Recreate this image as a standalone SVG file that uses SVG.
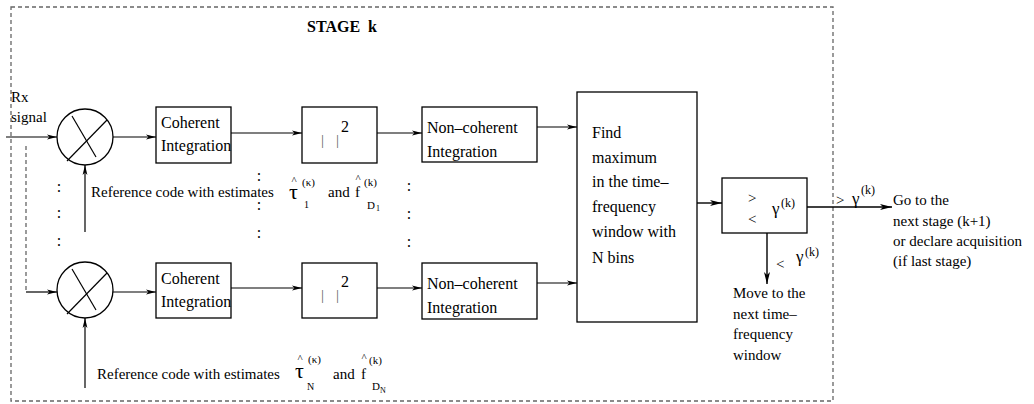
<svg xmlns="http://www.w3.org/2000/svg" width="1034" height="404" viewBox="0 0 1034 404">
<defs>
<marker id="ah" markerUnits="userSpaceOnUse" markerWidth="10" markerHeight="6" refX="10" refY="3" orient="auto"><path d="M0,0.6 L10,3 L0,5.4 L2.5,3 z" fill="#000"/></marker>
<marker id="ahb" markerUnits="userSpaceOnUse" markerWidth="12" markerHeight="8" refX="12" refY="4" orient="auto"><path d="M0,1 L12,4 L0,7 L3,4 z" fill="#000"/></marker>
</defs>
<style>
.t{font-family:"Liberation Serif","Times New Roman",serif;font-size:16px;fill:#000}
.s{font-size:15px}
.sup{font-size:11px}
.sm{font-size:10px}
.xs{font-size:8px}
.hat{font-size:11px;text-anchor:middle}
.tau{font-size:22px}
.g{font-size:17px}
.k{font-size:12px}
.b{font-weight:bold}
.box{fill:#fff;stroke:#000;stroke-width:1.3}
.ln{stroke:#000;stroke-width:1.2;fill:none}
.ar{marker-end:url(#ah)}
.arb{marker-end:url(#ahb);stroke-width:1.4}
.dash{stroke:#666;stroke-width:1.3;stroke-dasharray:4,3;fill:none}
.mx{fill:#fff;stroke:#000;stroke-width:1.3}
.bar{font-size:15px;fill:#666}
.c{text-anchor:middle}
</style>
<rect class="dash" x="11" y="7" width="822" height="394"/>
<text class="t b" x="307" y="32">STAGE</text>
<text class="t b" x="368" y="32">k</text>
<text class="t s" x="11" y="102">Rx</text>
<text class="t s" x="11" y="122">signal</text>

<g id="connectors">
<line class="ln ar" x1="6" y1="137" x2="57" y2="137"/>
<line class="dash" x1="26" y1="146" x2="26" y2="292"/>
<line class="ln ar" x1="26" y1="292" x2="57" y2="292"/>
<line class="ln ar" x1="113" y1="137" x2="156" y2="137"/>
<line class="ln ar" x1="231" y1="133" x2="302" y2="133"/>
<line class="ln ar" x1="377" y1="133" x2="422" y2="133"/>
<line class="ln ar" x1="537" y1="127" x2="577" y2="127"/>
<line class="ln ar" x1="85" y1="232" x2="85" y2="165"/>
<line class="ln ar" x1="113" y1="292" x2="156" y2="292"/>
<line class="ln ar" x1="231" y1="288" x2="302" y2="288"/>
<line class="ln ar" x1="377" y1="288" x2="422" y2="288"/>
<line class="ln ar" x1="537" y1="283" x2="577" y2="283"/>
<line class="ln ar" x1="85" y1="388" x2="85" y2="318"/>
<line class="ln arb" x1="697" y1="203" x2="722" y2="203"/>
<line class="ln arb" x1="807" y1="207" x2="892" y2="207"/>
<line class="ln arb" x1="767" y1="233" x2="767" y2="284"/>
</g>

<g id="mixer1">
<circle class="mx" cx="85" cy="137" r="28"/>
<line class="ln" x1="67" y1="161" x2="107" y2="120"/>
<line class="ln" x1="72" y1="116" x2="96" y2="157"/>
</g>
<g id="mixer2">
<circle class="mx" cx="85" cy="290" r="28"/>
<line class="ln" x1="67" y1="314" x2="107" y2="273"/>
<line class="ln" x1="72" y1="269" x2="96" y2="310"/>
</g>

<g id="coh1">
<rect class="box" x="156" y="107" width="75" height="56"/>
<text class="t" x="161" y="128">Coherent</text>
<text class="t" x="161" y="151">Integration</text>
</g>
<g id="coh2">
<rect class="box" x="156" y="263" width="75" height="55"/>
<text class="t" x="161" y="284">Coherent</text>
<text class="t" x="161" y="307">Integration</text>
</g>

<g id="abs1">
<rect class="box" x="302" y="107" width="75" height="56"/>
<text class="t bar" x="321" y="145">|</text>
<text class="t bar" x="336" y="145">|</text>
<text class="t" x="341" y="132">2</text>
</g>
<g id="abs2">
<rect class="box" x="302" y="263" width="75" height="55"/>
<text class="t bar" x="321" y="300">|</text>
<text class="t bar" x="336" y="300">|</text>
<text class="t" x="341" y="287">2</text>
</g>

<g id="noncoh1">
<rect class="box" x="422" y="107" width="115" height="55"/>
<text class="t" x="427" y="133">Non–coherent</text>
<text class="t" x="427" y="157">Integration</text>
</g>
<g id="noncoh2">
<rect class="box" x="422" y="263" width="115" height="56"/>
<text class="t" x="427" y="289">Non–coherent</text>
<text class="t" x="427" y="313">Integration</text>
</g>

<g id="findmax">
<rect class="box" x="577" y="92" width="120" height="230"/>
<text class="t" x="592" y="138">Find</text>
<text class="t" x="592" y="163">maximum</text>
<text class="t" x="592" y="187">in the time–</text>
<text class="t" x="592" y="212">frequency</text>
<text class="t" x="592" y="237">window with</text>
<text class="t" x="592" y="263">N bins</text>
</g>

<g id="comparator">
<rect class="box" x="722" y="178" width="85" height="55"/>
<text class="t s" x="748" y="203">&gt;</text>
<text class="t s" x="748" y="224">&lt;</text>
<text class="t g" x="772" y="214">γ</text>
<text class="t k" x="781" y="207">(k)</text>
</g>

<g id="label-above">
<text class="t s" x="836" y="205">&gt;</text>
<text class="t g" x="852" y="204">γ</text>
<text class="t k" x="861" y="194">(k)</text>
</g>
<g id="label-below">
<text class="t s" x="776" y="269">&lt;</text>
<text class="t g" x="796" y="262">γ</text>
<text class="t k" x="805" y="256">(k)</text>
</g>

<g id="next-stage">
<text class="t s" x="893" y="205">Go to the</text>
<text class="t s" x="893" y="226">next stage (k+1)</text>
<text class="t s" x="893" y="246">or declare acquisition</text>
<text class="t s" x="893" y="266">(if last stage)</text>
</g>
<g id="move-window">
<text class="t s" x="733" y="298">Move to the</text>
<text class="t s" x="733" y="319">next time–</text>
<text class="t s" x="733" y="339">frequency</text>
<text class="t s" x="733" y="360">window</text>
</g>

<g id="ref1">
<text class="t s" x="91" y="197">Reference code with estimates</text>
<text class="t hat" x="294" y="184">^</text>
<text class="t tau" x="289" y="199">τ</text>
<text class="t sup" x="302" y="186">(κ)</text>
<text class="t sm" x="304" y="208">1</text>
<text class="t s" x="328" y="197">and</text>
<text class="t hat" x="358" y="182">^</text>
<text class="t s" x="355" y="197">f</text>
<text class="t sup" x="364" y="186">(k)</text>
<text class="t sup" x="367" y="209">D</text>
<text class="t xs" x="376" y="211">1</text>
</g>
<g id="ref2">
<text class="t hat" x="300" y="362">^</text>
<text class="t tau" x="295" y="378">τ</text>
<text class="t sup" x="308" y="363">(κ)</text>
<text class="t sm" x="307" y="390">N</text>
<text class="t s" x="97" y="379">Reference code with estimates</text>
<text class="t s" x="333" y="379">and</text>
<text class="t hat" x="364" y="361">^</text>
<text class="t s" x="361" y="379">f</text>
<text class="t sup" x="369" y="364">(k)</text>
<text class="t sup" x="372" y="390">D</text>
<text class="t xs" x="380" y="393">N</text>
</g>

<g id="dots">
<text class="t c" x="59" y="192">:</text>
<text class="t c" x="59" y="218">:</text>
<text class="t c" x="59" y="246">:</text>
<text class="t c" x="259" y="181">:</text>
<text class="t c" x="259" y="210">:</text>
<text class="t c" x="259" y="238">:</text>
<text class="t c" x="409" y="191">:</text>
<text class="t c" x="409" y="219">:</text>
<text class="t c" x="409" y="247">:</text>
</g>
</svg>
